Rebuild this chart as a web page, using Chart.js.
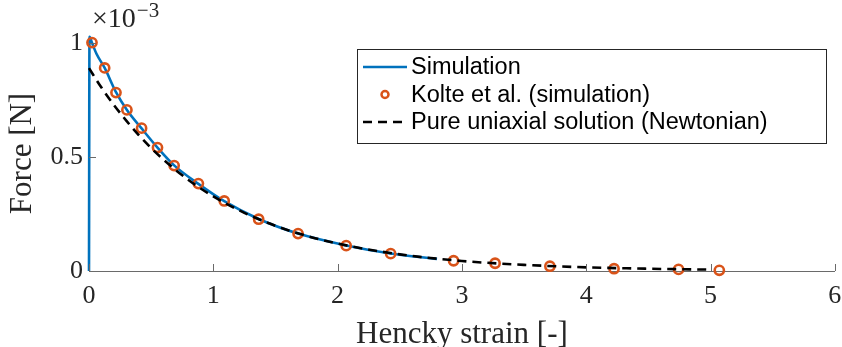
<!DOCTYPE html>
<html>
<head>
<meta charset="utf-8">
<script src="https://cdn.jsdelivr.net/npm/chart.js@4"></script>
<style>
  html,body{margin:0;padding:0;background:#fff;}
  #wrap{width:842px;height:347px;}
</style>
</head>
<body>
<div id="wrap"><canvas id="ch" width="842" height="347"></canvas></div>
<script>
/* data, force in units of 1e-3 N */
const simX=[0,0.004,0.024,0.06,0.126,0.217,0.305,0.423,0.551,0.685,0.88,1.088,1.365,1.682,2.069,2.427,2.8];
const simY=[0,1.026,1.0,0.952,0.89,0.784,0.706,0.625,0.541,0.463,0.382,0.306,0.228,0.164,0.112,0.077,0.053];

const kolteX=[0.024,0.126,0.217,0.305,0.423,0.551,0.685,0.88,1.088,1.365,1.682,2.069,2.427,2.933,3.267,3.708,4.224,4.743,5.071];
const kolteY=[1.001,0.89,0.782,0.706,0.626,0.541,0.462,0.383,0.307,0.227,0.164,0.111,0.076,0.045,0.034,0.021,0.01,0.007,0.003];

const newtX=[0,0.1,0.2,0.3,0.4,0.5,0.6,0.8,1.0,1.25,1.5,1.75,2.0,2.5,3.0,3.5,4.0,4.5,5.0];
const newtY=[0.889,0.804,0.728,0.659,0.596,0.539,0.488,0.399,0.327,0.255,0.198,0.154,0.12,0.073,0.044,0.027,0.016,0.01,0.006];

const xTicks=[0,1,2,3,4,5,6];
const yTicks=[0,0.5,1];
const labels=['Simulation','Kolte et al. (simulation)','Pure uniaxial solution (Newtonian)'];

const BLUE='#0072BD', ORANGE='#D95319', AX='#262626';
const pts=(xs,ys)=>xs.map((x,i)=>({x,y:ys[i]}));

Chart.defaults.font.family='"Liberation Serif", serif';
Chart.defaults.color=AX;

// inward tick marks, exponent label, inset legend
const extras={
    id:'extras',
    afterDraw(chart) {
        const c=chart.ctx, xs=chart.scales.x, ys=chart.scales.y;
        const ca=chart.chartArea;
        c.save();
        c.strokeStyle='#6a6a6a'; c.lineWidth=1;
        c.beginPath();
        xTicks.forEach(v=>{const px=Math.round(xs.getPixelForValue(v))+0.5;c.moveTo(px,ca.bottom);c.lineTo(px,ca.bottom-7);});
        yTicks.forEach(v=>{const py=Math.round(ys.getPixelForValue(v))+0.5;c.moveTo(ca.left,py);c.lineTo(ca.left+7,py);});
        c.stroke();

        // x10^-3
        c.fillStyle=AX; c.textBaseline='alphabetic'; c.textAlign='left';
        c.font='28px "Liberation Serif"';
        c.fillText('×10',92,27);
        const w=c.measureText('×10').width;
        c.font='21px "Liberation Serif"';
        c.fillText('−3',92+w+1,17);

        // legend
        const lx=357, ly=49, lw=469, lh=94;
        c.fillStyle='#fff'; c.fillRect(lx,ly,lw,lh);
        c.strokeStyle=AX; c.lineWidth=1; c.strokeRect(lx+0.5,ly+0.5,lw,lh);
        const rows=[67,94.5,122];
        c.font='23.5px "Liberation Sans", Arial, sans-serif';
        c.textBaseline='middle';
        chart.data.datasets.forEach((ds,i)=>{
            const y=rows[i];
            c.save();
            if (i===1) {
                c.strokeStyle=ds.borderColor; c.lineWidth=2.5;
                c.beginPath(); c.arc(385,y,3.5,0,Math.PI*2); c.stroke();
            } else {
                c.strokeStyle=ds.borderColor; c.lineWidth=ds.borderWidth;
                c.setLineDash(ds.borderDash||[]);
                c.beginPath(); c.moveTo(363,y); c.lineTo(407,y); c.stroke();
            }
            c.restore();
            c.fillStyle='#000';
            c.fillText(ds.label,411,y+1);
        });
        c.restore();
    }
};

new Chart(document.getElementById('ch').getContext('2d'),{
    type:'scatter',
    data:{datasets:[
        {label:labels[0],data:pts(simX,simY),showLine:true,borderColor:BLUE,borderWidth:2.6,pointRadius:0,cubicInterpolationMode:'monotone',order:3},
        {label:labels[1],data:pts(kolteX,kolteY),showLine:false,borderColor:ORANGE,backgroundColor:'rgba(0,0,0,0)',pointRadius:4.6,pointBorderWidth:2.6,order:2},
        {label:labels[2],data:pts(newtX,newtY),showLine:true,borderColor:'#000',borderWidth:2.6,borderDash:[9,6],pointRadius:0,cubicInterpolationMode:'monotone',order:1}
    ]},
    options:{
        responsive:false,
        animation:false,
        clip:false,
        layout:{padding:{top:36,right:4,left:0,bottom:0}},
        plugins:{legend:{display:false},tooltip:{enabled:false}},
        scales:{
            x:{
                type:'linear',min:0,max:6,
                afterBuildTicks:s=>{s.ticks=xTicks.map(v=>({value:v}));},
                afterFit:s=>{s.height=76;s.paddingLeft=0;s.paddingRight=0;},
                grid:{display:false,drawTicks:false},
                border:{display:true,color:'#6a6a6a',width:1},
                ticks:{font:{size:26},color:AX,padding:10,callback:v=>String(v)},
                title:{display:true,text:'Hencky strain [-]',font:{size:31,lineHeight:1},color:AX,padding:{top:0,bottom:-3}}
            },
            y:{
                type:'linear',min:0,max:1.03,
                afterBuildTicks:s=>{s.ticks=yTicks.map(v=>({value:v}));},
                afterFit:s=>{s.width=89;s.paddingTop=0;s.paddingBottom=0;},
                grid:{display:false,drawTicks:false},
                border:{display:true,color:'#6a6a6a',width:1},
                ticks:{font:{size:26},color:AX,padding:6,callback:v=>String(v)},
                title:{display:true,text:'Force [N]',font:{size:31,lineHeight:1},color:AX,padding:{top:7,bottom:0}}
            }
        }
    },
    plugins:[extras]
});
</script>
</body>
</html>
